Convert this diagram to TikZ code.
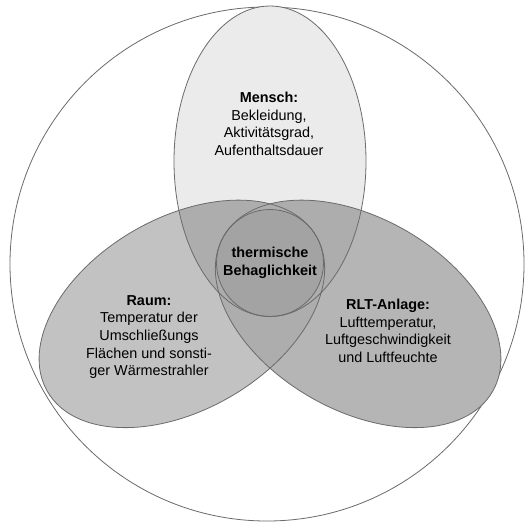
\documentclass[tikz,border=0pt]{standalone}
\usepackage{fontspec}
\setmainfont{Liberation Sans}
\begin{document}
\begin{tikzpicture}[x=1pt,y=-1pt,
  outline/.style={draw=black!58,line width=0.8pt},
  lbl/.style={align=center,inner sep=0pt,font=\fontsize{14.4}{17.6}\selectfont}]
\useasboundingbox (0,0) rectangle (530,530);
\coordinate (C) at (270,263);
\def\topE{(270,161.25) ellipse [x radius=96, y radius=155.25]}
% background and outer circle
\fill[white] (0,0) rectangle (530,530);
\draw[outline] (267,264) circle [radius=257];
% single fills
\fill[black!8] \topE;
\fill[black!24, rotate around={120:(C)}] \topE;
\fill[black!29, rotate around={-120:(C)}] \topE;
% pairwise overlaps
\begin{scope}
  \clip \topE;
  \fill[black!32, rotate around={-120:(C)}] \topE;
  \fill[black!32, rotate around={120:(C)}] \topE;
\end{scope}
\begin{scope}
  \clip[rotate around={-120:(C)}] \topE;
  \fill[black!32, rotate around={120:(C)}] \topE;
\end{scope}
% center circle
\fill[black!36] (C) circle [radius=53.5];
% outlines
\draw[outline] \topE;
\draw[outline, rotate around={-120:(C)}] \topE;
\draw[outline, rotate around={120:(C)}] \topE;
\draw[outline] (C) circle [radius=53.5];
% labels
\node[lbl] (mensch) at (269,124) {\textbf{Mensch:}\\Bekleidung,\\Aktivitätsgrad,\\Aufenthaltsdauer};
\node[lbl] (raum) at (149,337) {\textbf{Raum:}\\Temperatur der\\Umschließungs\\Flächen und sonsti-\\ger Wärmestrahler};
\node[lbl] (rlt) at (388,331) {\textbf{RLT-Anlage:}\\Lufttemperatur,\\Luftgeschwindigkeit\\und Luftfeuchte};
\node[lbl] (tb) at (270,263) {\textbf{thermische}\\\textbf{Behaglichkeit}};
\end{tikzpicture}
\end{document}
